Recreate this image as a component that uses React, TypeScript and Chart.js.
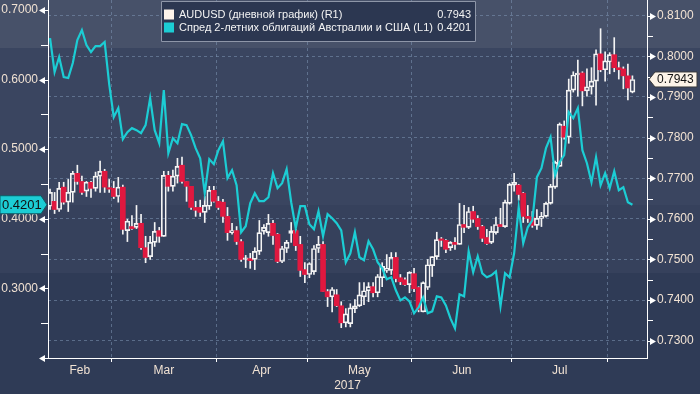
import React, { useEffect, useRef } from 'react';
import { Chart, registerables } from 'chart.js';

Chart.register(...registerables);

// ---------- DATA ----------
const OPEN = [
  0.7631, 0.7643, 0.7623, 0.7678, 0.7641, 0.7665, 0.7712, 0.7692, 0.7668, 0.7690,
  0.7675, 0.7705, 0.7717, 0.7675, 0.7675, 0.7655, 0.7678, 0.7571, 0.7581, 0.7579,
  0.7589, 0.7529, 0.7507, 0.7542, 0.7571, 0.7557, 0.7707, 0.7680, 0.7705, 0.7732,
  0.7692, 0.7680, 0.7628, 0.7628, 0.7616, 0.7631, 0.7670, 0.7643, 0.7641, 0.7606,
  0.7566, 0.7571, 0.7544, 0.7500, 0.7502, 0.7500, 0.7520, 0.7569, 0.7566, 0.7589,
  0.7562, 0.7495, 0.7527, 0.7564, 0.7571, 0.7537, 0.7475, 0.7463, 0.7470, 0.7527,
  0.7537, 0.7421, 0.7408, 0.7413, 0.7386, 0.7344, 0.7342, 0.7379, 0.7386, 0.7408,
  0.7423, 0.7433, 0.7418, 0.7455, 0.7473, 0.7473, 0.7505, 0.7455, 0.7450, 0.7438,
  0.7465, 0.7431, 0.7371, 0.7431, 0.7485, 0.7507, 0.7549, 0.7547, 0.7529, 0.7542,
  0.7537, 0.7586, 0.7579, 0.7618, 0.7601, 0.7581, 0.7554, 0.7542, 0.7566, 0.7586,
  0.7581, 0.7638, 0.7683, 0.7683, 0.7663, 0.7606, 0.7604, 0.7584, 0.7601, 0.7606,
  0.7638, 0.7678, 0.7729, 0.7828, 0.7801, 0.7917, 0.7954, 0.7959, 0.7915, 0.7925,
  0.7939, 0.8006, 0.7967, 0.7986, 0.8004, 0.7972, 0.7969, 0.7952, 0.7912,
];
const HIGH = [
  0.7673, 0.7665, 0.7690, 0.7690, 0.7697, 0.7717, 0.7732, 0.7705, 0.7692, 0.7692,
  0.7715, 0.7742, 0.7722, 0.7697, 0.7692, 0.7702, 0.7683, 0.7599, 0.7608, 0.7633,
  0.7611, 0.7557, 0.7557, 0.7591, 0.7579, 0.7717, 0.7717, 0.7720, 0.7749, 0.7752,
  0.7692, 0.7680, 0.7643, 0.7646, 0.7655, 0.7680, 0.7680, 0.7655, 0.7648, 0.7628,
  0.7589, 0.7581, 0.7549, 0.7510, 0.7515, 0.7529, 0.7596, 0.7586, 0.7611, 0.7596,
  0.7564, 0.7532, 0.7547, 0.7591, 0.7574, 0.7557, 0.7492, 0.7492, 0.7534, 0.7557,
  0.7544, 0.7426, 0.7431, 0.7426, 0.7396, 0.7379, 0.7391, 0.7401, 0.7443, 0.7443,
  0.7443, 0.7443, 0.7463, 0.7492, 0.7512, 0.7517, 0.7517, 0.7463, 0.7455, 0.7470,
  0.7478, 0.7433, 0.7445, 0.7500, 0.7507, 0.7567, 0.7554, 0.7549, 0.7544, 0.7554,
  0.7638, 0.7633, 0.7628, 0.7631, 0.7608, 0.7584, 0.7574, 0.7581, 0.7604, 0.7626,
  0.7646, 0.7688, 0.7712, 0.7685, 0.7665, 0.7633, 0.7618, 0.7623, 0.7616, 0.7641,
  0.7685, 0.7742, 0.7836, 0.7841, 0.7944, 0.7962, 0.7991, 0.7962, 0.7969, 0.7972,
  0.8016, 0.8068, 0.8011, 0.8009, 0.8046, 0.7986, 0.7974, 0.7981, 0.7952,
];
const LOW = [
  0.7623, 0.7613, 0.7618, 0.7636, 0.7618, 0.7641, 0.7685, 0.7660, 0.7655, 0.7653,
  0.7668, 0.7665, 0.7665, 0.7665, 0.7650, 0.7641, 0.7562, 0.7544, 0.7574, 0.7576,
  0.7525, 0.7492, 0.7500, 0.7532, 0.7542, 0.7557, 0.7668, 0.7668, 0.7688, 0.7688,
  0.7643, 0.7623, 0.7606, 0.7606, 0.7591, 0.7623, 0.7641, 0.7623, 0.7591, 0.7547,
  0.7562, 0.7537, 0.7495, 0.7480, 0.7478, 0.7475, 0.7512, 0.7562, 0.7557, 0.7537,
  0.7492, 0.7492, 0.7517, 0.7542, 0.7522, 0.7458, 0.7443, 0.7455, 0.7463, 0.7517,
  0.7421, 0.7384, 0.7371, 0.7384, 0.7332, 0.7334, 0.7334, 0.7369, 0.7384, 0.7389,
  0.7396, 0.7408, 0.7408, 0.7433, 0.7468, 0.7463, 0.7445, 0.7438, 0.7436, 0.7418,
  0.7421, 0.7371, 0.7371, 0.7426, 0.7458, 0.7500, 0.7532, 0.7517, 0.7522, 0.7525,
  0.7537, 0.7566, 0.7576, 0.7591, 0.7574, 0.7544, 0.7537, 0.7539, 0.7562, 0.7581,
  0.7579, 0.7636, 0.7668, 0.7646, 0.7591, 0.7591, 0.7579, 0.7574, 0.7581, 0.7604,
  0.7636, 0.7675, 0.7729, 0.7796, 0.7786, 0.7912, 0.7902, 0.7878, 0.7902, 0.7907,
  0.7880, 0.7962, 0.7939, 0.7957, 0.7962, 0.7944, 0.7920, 0.7893, 0.7910,
];
const CLOSE = [
  0.7665, 0.7623, 0.7675, 0.7641, 0.7665, 0.7712, 0.7692, 0.7665, 0.7690, 0.7675,
  0.7705, 0.7717, 0.7678, 0.7673, 0.7655, 0.7678, 0.7574, 0.7594, 0.7576, 0.7589,
  0.7529, 0.7505, 0.7542, 0.7569, 0.7557, 0.7707, 0.7680, 0.7705, 0.7729, 0.7692,
  0.7680, 0.7628, 0.7621, 0.7616, 0.7633, 0.7670, 0.7643, 0.7628, 0.7606, 0.7566,
  0.7571, 0.7544, 0.7500, 0.7502, 0.7497, 0.7520, 0.7566, 0.7579, 0.7589, 0.7559,
  0.7495, 0.7527, 0.7542, 0.7571, 0.7534, 0.7473, 0.7463, 0.7490, 0.7527, 0.7537,
  0.7421, 0.7408, 0.7426, 0.7386, 0.7344, 0.7366, 0.7381, 0.7386, 0.7413, 0.7423,
  0.7433, 0.7418, 0.7458, 0.7483, 0.7478, 0.7505, 0.7453, 0.7445, 0.7438, 0.7468,
  0.7428, 0.7376, 0.7443, 0.7487, 0.7507, 0.7549, 0.7547, 0.7525, 0.7542, 0.7537,
  0.7586, 0.7579, 0.7618, 0.7599, 0.7581, 0.7552, 0.7539, 0.7569, 0.7586, 0.7581,
  0.7641, 0.7685, 0.7690, 0.7660, 0.7606, 0.7601, 0.7584, 0.7601, 0.7606, 0.7638,
  0.7680, 0.7739, 0.7833, 0.7801, 0.7917, 0.7954, 0.7959, 0.7915, 0.7925, 0.7939,
  0.8006, 0.7967, 0.7989, 0.8004, 0.7972, 0.7967, 0.7952, 0.7922, 0.7943,
];
const SPREAD = [
  0.6597, 0.6108, 0.6324, 0.6036, 0.6022, 0.6237, 0.6568, 0.6712, 0.6496, 0.6396,
  0.6482, 0.6482, 0.6540, 0.5935, 0.5460, 0.5590, 0.5144, 0.5245, 0.5302, 0.5273,
  0.5230, 0.5345, 0.5734, 0.5273, 0.5086, 0.5849, 0.4942, 0.5158, 0.5086, 0.5360,
  0.5345, 0.5201, 0.5014, 0.4870, 0.4367, 0.4856, 0.4784, 0.4985, 0.5115, 0.4583,
  0.4698, 0.4482, 0.3806, 0.3892, 0.4223, 0.4367, 0.4252, 0.4252, 0.4309, 0.4655,
  0.4439, 0.4511, 0.4712, 0.4237, 0.3863, 0.4180, 0.4180, 0.3921, 0.3849, 0.4108,
  0.3748, 0.4065, 0.4007, 0.3935, 0.3834, 0.3374, 0.3503, 0.3806, 0.3446, 0.3403,
  0.3676, 0.3561, 0.3374, 0.3287, 0.3129, 0.3158, 0.2971, 0.2827, 0.2870, 0.2813,
  0.2640, 0.2726, 0.2870, 0.2640, 0.2669, 0.2885, 0.2870, 0.2755, 0.2568, 0.2424,
  0.2913, 0.2885, 0.3532, 0.3230, 0.3460, 0.3216, 0.3158, 0.3187, 0.3244, 0.2741,
  0.3216, 0.3158, 0.3503, 0.4165, 0.3647, 0.3877, 0.3978, 0.4597, 0.4726, 0.5014,
  0.5173, 0.4626, 0.4813, 0.4914, 0.5532, 0.5446, 0.5590, 0.4985, 0.4798, 0.4525,
  0.4885, 0.4482, 0.4655, 0.4439, 0.4683, 0.4410, 0.4453, 0.4237, 0.4201,
];

const MONTHS = ['Feb', 'Mar', 'Apr', 'May', 'Jun', 'Jul'];
// trading-day index where each month boundary falls (Mar, Apr, May, Jun, Jul, Aug)
const MONTH_BOUNDS = [13.5, 36.5, 56.5, 79.5, 101.5, 122.5];
const YEAR_LABEL = '2017';
const RIGHT_MAJOR = [0.73, 0.74, 0.75, 0.76, 0.77, 0.78, 0.79, 0.80, 0.81];
const RIGHT_MINOR = [0.735, 0.745, 0.755, 0.765, 0.775, 0.785, 0.795, 0.805];
const LEFT_MAJOR = [0.2, 0.3, 0.4, 0.5, 0.6, 0.7];
const LEFT_MINOR = [0.25, 0.35, 0.45, 0.55, 0.65];
const LEGEND_LABELS = [
  'AUDUSD (дневной график) (R1)',
  'Спред 2-летних облигаций Австралии и США (L1)',
];

// ---------- STYLE ----------
const FONT = "'Liberation Sans', Arial, sans-serif";
const TEXT = '#f1e2d3';
const CYAN = '#1ccdd4';
const RED = '#e0183f';
const GRID = 'rgba(125,150,180,0.55)';
const X_MIN = -0.45;
const X_MAX = 131.2;

const near = (a: number, list: number[]) => list.some((v) => Math.abs(v - a) < 1e-6);
const noPad = (s: any) => {
  s.paddingTop = 0;
  s.paddingBottom = 0;
  s.paddingLeft = 0;
  s.paddingRight = 0;
};

const decor = {
  id: 'decor',
  beforeDraw(chart: any) {
    const { ctx, width, height } = chart;
    ctx.save();
    const bands: [number, number, string][] = [
      [0, 48, '#475169'],
      [48, 205, '#3a4560'],
      [205, 273, '#36415c'],
      [273, height, '#2f3b56'],
    ];
    bands.forEach(([a, b, c]) => {
      ctx.fillStyle = c;
      ctx.fillRect(0, a, width, b - a);
    });
    ctx.restore();
  },
  afterDraw(chart: any) {
    const { ctx, chartArea: ca } = chart;
    const yR = chart.scales.yR;
    const yL = chart.scales.yL;
    ctx.save();
    ctx.fillStyle = '#ffffff';
    ctx.strokeStyle = '#ffffff';
    ctx.lineWidth = 1;
    // right axis tick marks
    yR.ticks.forEach((t: any) => {
      const y = Math.round(yR.getPixelForValue(t.value)) + 0.5;
      const x0 = ca.right;
      ctx.beginPath();
      if (near(t.value, RIGHT_MAJOR)) {
        ctx.moveTo(x0, y);
        ctx.lineTo(x0 + 4, y);
        ctx.stroke();
        ctx.beginPath();
        ctx.moveTo(x0 + 3, y - 3.5);
        ctx.lineTo(x0 + 9, y);
        ctx.lineTo(x0 + 3, y + 3.5);
        ctx.closePath();
        ctx.fill();
      } else {
        ctx.moveTo(x0, y);
        ctx.lineTo(x0 + 6, y);
        ctx.stroke();
      }
    });
    // left axis tick marks
    yL.ticks.forEach((t: any) => {
      const y = Math.round(yL.getPixelForValue(t.value)) + 0.5;
      const x0 = ca.left;
      ctx.beginPath();
      if (near(t.value, LEFT_MAJOR)) {
        ctx.moveTo(x0, y);
        ctx.lineTo(x0 - 4, y);
        ctx.stroke();
        ctx.beginPath();
        ctx.moveTo(x0 - 3, y - 3.5);
        ctx.lineTo(x0 - 9, y);
        ctx.lineTo(x0 - 3, y + 3.5);
        ctx.closePath();
        ctx.fill();
      } else {
        ctx.moveTo(x0, y);
        ctx.lineTo(x0 - 7, y);
        ctx.stroke();
      }
    });

    const lastPrice = CLOSE[CLOSE.length - 1];
    const lastSpread = SPREAD[SPREAD.length - 1];

    // right price tag
    {
      const y = yR.getPixelForValue(lastPrice);
      const x0 = ca.right + 2;
      ctx.beginPath();
      ctx.moveTo(x0, y);
      ctx.lineTo(x0 + 6, y - 7.5);
      ctx.lineTo(x0 + 48, y - 7.5);
      ctx.lineTo(x0 + 48, y + 7.5);
      ctx.lineTo(x0 + 6, y + 7.5);
      ctx.closePath();
      ctx.fillStyle = '#fdf4e8';
      ctx.fill();
      ctx.strokeStyle = '#3a3a3a';
      ctx.stroke();
      ctx.fillStyle = '#111111';
      ctx.font = `12px ${FONT}`;
      ctx.textAlign = 'left';
      ctx.textBaseline = 'middle';
      ctx.fillText(lastPrice.toFixed(4), x0 + 8, y + 0.5);
    }
    // left spread tag
    {
      const y = yL.getPixelForValue(lastSpread);
      const x1 = ca.left - 1;
      ctx.beginPath();
      ctx.moveTo(0, y - 9);
      ctx.lineTo(x1 - 6, y - 9);
      ctx.lineTo(x1, y);
      ctx.lineTo(x1 - 6, y + 9);
      ctx.lineTo(0, y + 9);
      ctx.closePath();
      ctx.fillStyle = CYAN;
      ctx.fill();
      ctx.strokeStyle = '#0d5d66';
      ctx.stroke();
      ctx.fillStyle = '#111111';
      ctx.font = `13px ${FONT}`;
      ctx.textAlign = 'left';
      ctx.textBaseline = 'middle';
      ctx.fillText(lastSpread.toFixed(4), 2, y + 0.5);
    }

    // legend box
    {
      const bx = 161.5, by = 1.5, bw = 314, bh = 40;
      ctx.fillStyle = '#2c3751';
      ctx.strokeStyle = '#8e96a8';
      ctx.lineWidth = 1;
      ctx.beginPath();
      ctx.rect(bx, by, bw, bh);
      ctx.fill();
      ctx.stroke();
      const rows = [
        { label: LEGEND_LABELS[0], value: lastPrice.toFixed(4), color: '#fdf3ea', y: 14.5 },
        { label: LEGEND_LABELS[1], value: lastSpread.toFixed(4), color: CYAN, y: 27.5 },
      ];
      ctx.font = `11px ${FONT}`;
      ctx.textBaseline = 'middle';
      rows.forEach((r) => {
        ctx.fillStyle = r.color;
        ctx.fillRect(164, r.y - 5, 10, 10);
        ctx.fillStyle = '#f4f4f4';
        ctx.textAlign = 'left';
        ctx.fillText(r.label, 179, r.y);
        ctx.textAlign = 'right';
        ctx.fillText(r.value, 471, r.y);
      });
    }
    ctx.restore();
  },
};

export default function App() {
  const ref = useRef<HTMLCanvasElement | null>(null);

  useEffect(() => {
    document.body.style.margin = '0';
    const canvas = ref.current;
    if (!canvas) return;
    const idx = OPEN.map((_, i) => i);
    const isUp = (i: number) => CLOSE[i] >= OPEN[i];

    const centers: number[] = [];
    let prev = X_MIN;
    MONTH_BOUNDS.forEach((b) => {
      centers.push((prev + b) / 2);
      prev = b;
    });

    const chart = new Chart(canvas, {
      type: 'bar',
      data: {
        datasets: [
          {
            type: 'line',
            data: idx.map((i) => ({ x: i, y: SPREAD[i] })),
            yAxisID: 'yL',
            xAxisID: 'x',
            borderColor: CYAN,
            borderWidth: 2.2,
            pointRadius: 0,
            tension: 0,
            order: 0,
          } as any,
          {
            type: 'bar',
            data: idx.map((i) => ({ x: i, y: [Math.max(OPEN[i], CLOSE[i]), HIGH[i]] })),
            yAxisID: 'yR',
            xAxisID: 'x',
            backgroundColor: '#f4f4f4',
            barThickness: 1,
            grouped: false,
            borderWidth: 0,
            order: 2,
          } as any,
          {
            type: 'bar',
            data: idx.map((i) => ({ x: i, y: [LOW[i], Math.min(OPEN[i], CLOSE[i])] })),
            yAxisID: 'yR',
            xAxisID: 'x',
            backgroundColor: '#f4f4f4',
            barThickness: 1,
            grouped: false,
            borderWidth: 0,
            order: 2,
          } as any,
          {
            type: 'bar',
            data: idx.map((i) => ({ x: i, y: [OPEN[i], CLOSE[i]] })),
            yAxisID: 'yR',
            xAxisID: 'x',
            backgroundColor: (c: any) => (isUp(c.dataIndex) ? 'rgba(0,0,0,0)' : RED),
            borderColor: (c: any) => (isUp(c.dataIndex) ? '#f4f4f4' : RED),
            borderWidth: (c: any) => (isUp(c.dataIndex) ? 1 : 0),
            borderSkipped: false,
            barThickness: 5,
            minBarLength: 1.5,
            grouped: false,
            order: 1,
          } as any,
        ],
      },
      options: {
        animation: false,
        responsive: false,
        devicePixelRatio: 1,
        events: [],
        layout: { padding: 0 },
        plugins: { legend: { display: false }, tooltip: { enabled: false } },
        scales: {
          x: {
            type: 'linear',
            position: 'bottom',
            min: X_MIN,
            max: X_MAX,
            offset: false,
            afterFit: (s: any) => {
              s.height = 36;
              noPad(s);
            },
            afterBuildTicks: (s: any) => {
              s.ticks = [...MONTH_BOUNDS, ...centers]
                .sort((a, b) => a - b)
                .map((v) => ({ value: v }));
            },
            ticks: {
              autoSkip: false,
              maxRotation: 0,
              padding: 1,
              color: TEXT,
              font: { family: FONT, size: 12 },
              callback: (v: any) => {
                const k = centers.findIndex((c) => Math.abs(c - v) < 1e-6);
                return k >= 0 ? MONTHS[k] : '';
              },
            },
            grid: {
              offset: false,
              drawOnChartArea: true,
              drawTicks: true,
              tickLength: 4,
              color: (c: any) => (c.tick && near(c.tick.value, MONTH_BOUNDS) ? GRID : 'rgba(0,0,0,0)'),
              tickColor: (c: any) => (c.tick && near(c.tick.value, MONTH_BOUNDS) ? '#ffffff' : 'rgba(0,0,0,0)'),
            },
            border: { display: true, color: '#ffffff', width: 1, dash: [3, 3] },
            title: {
              display: true,
              text: YEAR_LABEL,
              color: TEXT,
              font: { family: FONT, size: 12 },
              padding: { top: 0, bottom: 1 },
            },
          },
          yR: {
            type: 'linear',
            position: 'right',
            min: 0.725742,
            max: 0.813865,
            afterFit: (s: any) => {
              s.width = 53;
              noPad(s);
            },
            afterBuildTicks: (s: any) => {
              s.ticks = [...RIGHT_MAJOR, ...RIGHT_MINOR]
                .sort((a, b) => a - b)
                .map((v) => ({ value: v }));
            },
            ticks: {
              autoSkip: false,
              padding: 10,
              color: TEXT,
              font: { family: FONT, size: 12 },
              callback: (v: any) => (near(v, RIGHT_MAJOR) ? Number(v).toFixed(4) : ''),
            },
            grid: {
              drawTicks: false,
              color: (c: any) => (c.tick && near(c.tick.value, RIGHT_MAJOR) ? GRID : 'rgba(0,0,0,0)'),
            },
            border: { display: true, color: '#ffffff', width: 1, dash: [3, 3] },
          },
          yL: {
            type: 'linear',
            position: 'left',
            min: 0.19983,
            max: 0.71437,
            afterFit: (s: any) => {
              s.width = 48;
              noPad(s);
            },
            afterBuildTicks: (s: any) => {
              s.ticks = [...LEFT_MAJOR, ...LEFT_MINOR]
                .sort((a, b) => a - b)
                .map((v) => ({ value: v }));
            },
            ticks: {
              autoSkip: false,
              padding: 10,
              color: TEXT,
              font: { family: FONT, size: 12 },
              callback: (v: any) =>
                near(v, LEFT_MAJOR) && Math.abs(v - 0.2) > 1e-6 ? Number(v).toFixed(4) : '',
            },
            grid: { drawTicks: false, drawOnChartArea: false },
            border: { display: true, color: '#ffffff', width: 1 },
          },
        },
      } as any,
      plugins: [decor],
    });
    return () => chart.destroy();
  }, []);

  return (
    <div style={{ width: 700, height: 394 }}>
      <canvas ref={ref} width={700} height={394} style={{ display: 'block' }} />
    </div>
  );
}
